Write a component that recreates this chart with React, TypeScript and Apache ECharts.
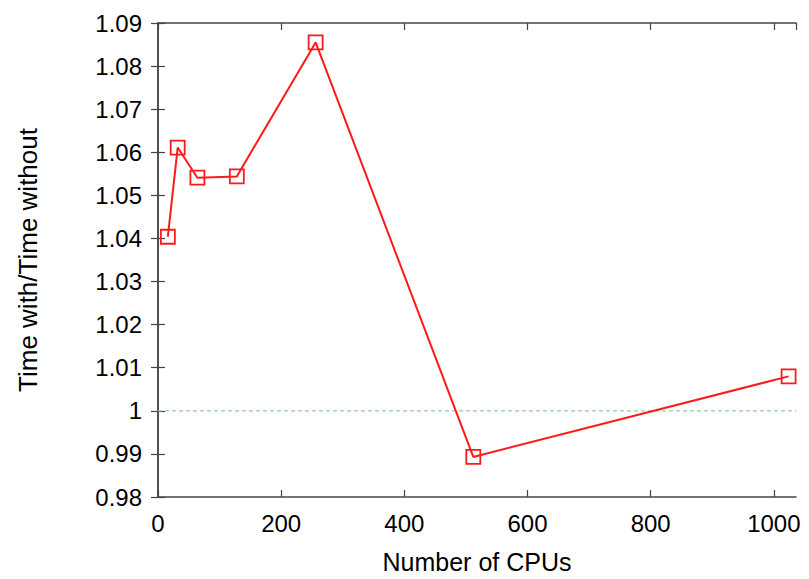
import React, { useEffect, useRef } from "react";
import * as echarts from "echarts";

const cpus = [16, 32, 64, 128, 256, 512, 1024];
const ratio = [1.0404, 1.0611, 1.0541, 1.0544, 1.0855, 0.9893, 1.008];
const referenceLevel = 1;
const xTitle = "Number of CPUs";
const yTitle = "Time with/Time without";
const X_MIN = 0;
const X_MAX = 1036;

const FONT = "'Liberation Sans', Arial, Helvetica, sans-serif";
const GREEN = "#93d493";
const RED = "#ff1a1a";

export default function App() {
  const ref = useRef<HTMLDivElement>(null);
  useEffect(() => {
    if (!ref.current) return;
    const chart = echarts.init(ref.current, null, { renderer: "svg" });
    const axisLine = { show: true, lineStyle: { color: "#444", width: 1.5 } };
    const tick = { show: true, inside: true, length: 7, lineStyle: { color: "#444", width: 1.2 } };
    const yFmt = (v: number) => String(parseFloat(v.toFixed(2)));
    chart.setOption({
      animation: false,
      backgroundColor: "#ffffff",
      textStyle: { fontFamily: FONT },
      grid: { left: 158, right: 13, top: 23, bottom: 82, containLabel: false },
      xAxis: [
        {
          type: "value",
          min: X_MIN,
          max: X_MAX,
          interval: 200,
          name: xTitle,
          nameLocation: "middle",
          nameGap: 52,
          nameTextStyle: { fontSize: 25, color: "#000", fontFamily: FONT },
          axisLine,
          axisTick: tick,
          splitLine: { show: false },
          axisLabel: {
            fontSize: 24,
            color: "#000",
            margin: 14,
            fontFamily: FONT,
            showMaxLabel: false,
            formatter: (v: number) => (v % 200 === 0 ? String(v) : ""),
          },
        },
        {
          type: "value",
          position: "top",
          min: X_MIN,
          max: X_MAX,
          interval: 200,
          axisLine,
          axisTick: tick,
          axisLabel: { show: false },
          splitLine: { show: false },
        },
      ],
      yAxis: [
        {
          type: "value",
          min: 0.98,
          max: 1.09,
          interval: 0.01,
          name: yTitle,
          nameLocation: "middle",
          nameRotate: 90,
          nameGap: 117,
          nameTextStyle: { fontSize: 26, color: "#000", fontFamily: FONT },
          axisLine,
          axisTick: tick,
          splitLine: { show: false },
          axisLabel: { fontSize: 24, color: "#000", margin: 16, fontFamily: FONT, formatter: yFmt },
        },
        {
          type: "value",
          position: "right",
          min: 0.98,
          max: 1.09,
          interval: 0.01,
          axisLine,
          axisTick: tick,
          axisLabel: { show: false },
          splitLine: { show: false },
        },
      ],
      series: [
        {
          type: "line",
          xAxisIndex: 0,
          yAxisIndex: 0,
          data: [
            [X_MIN, referenceLevel],
            [X_MAX, referenceLevel],
          ],
          symbol: "none",
          silent: true,
          color: GREEN,
          lineStyle: { color: GREEN, type: [4, 3], width: 1.2 },
          z: 1,
        },
        {
          type: "line",
          xAxisIndex: 0,
          yAxisIndex: 0,
          data: cpus.map((c, i) => [c, ratio[i]]),
          symbol: "rect",
          symbolSize: 14,
          color: RED,
          lineStyle: { color: RED, width: 2 },
          itemStyle: { color: "rgba(0,0,0,0)", borderColor: RED, borderWidth: 1.8 },
          z: 3,
        },
      ],
    });
    return () => chart.dispose();
  }, []);
  return (
    <div
      ref={ref}
      style={{ position: "fixed", left: 0, top: 0, width: 809, height: 579 }}
    />
  );
}
